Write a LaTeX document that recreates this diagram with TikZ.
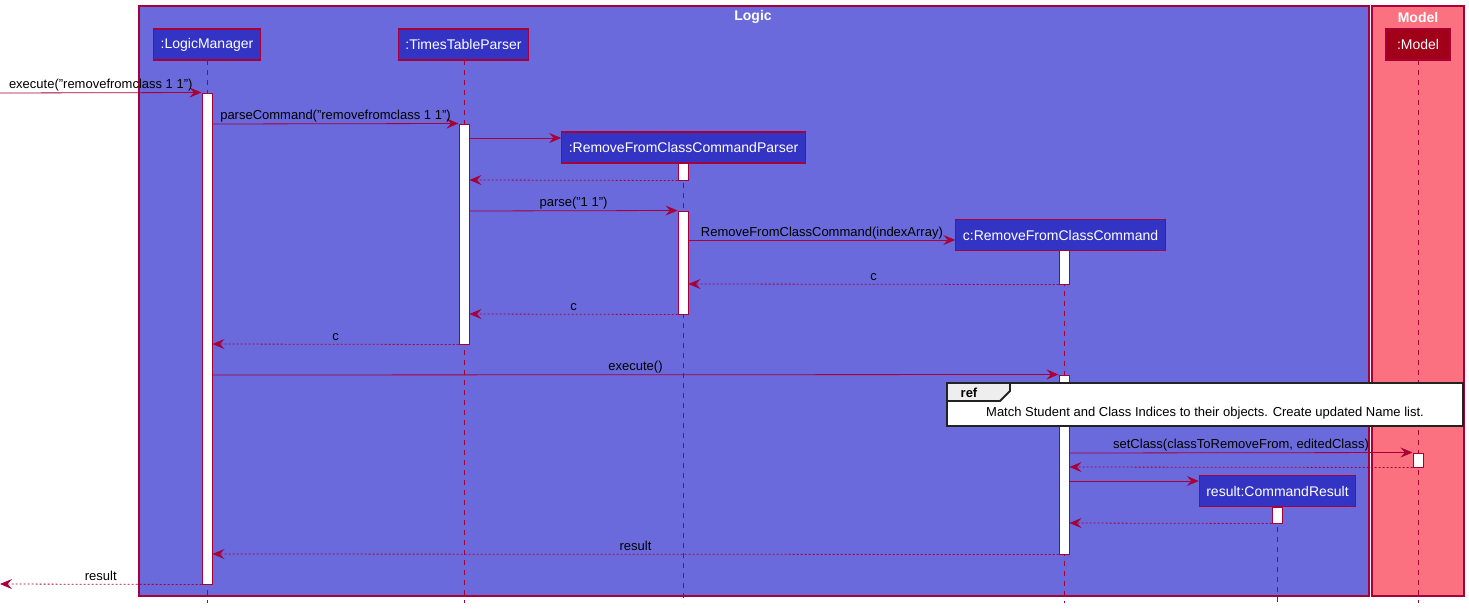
\documentclass[tikz,border=0pt]{standalone}
\usepackage{fontspec}
\setmainfont{Liberation Sans}
\usetikzlibrary{arrows.meta}
\definecolor{frameblue}{RGB}{106,106,220}
\definecolor{partblue}{RGB}{51,51,196}
\definecolor{modelpink}{RGB}{252,113,128}
\definecolor{modelred}{RGB}{160,0,24}
\definecolor{crimson}{RGB}{168,0,54}
\definecolor{reftab}{RGB}{238,238,238}
\definecolor{refline}{RGB}{34,34,34}
\begin{document}
\begin{tikzpicture}[x=1pt,y=-1pt,
  frame/.style={draw=crimson, line width=1.5pt},
  ftitle/.style={text=white, font=\bfseries\fontsize{14}{16}\selectfont, inner sep=0pt},
  part/.style={draw=crimson, line width=1.2pt, fill=partblue, text=white, font=\fontsize{14}{16}\selectfont, minimum height=31pt, inner xsep=7pt, inner ysep=0pt},
  life/.style={draw=crimson, line width=0.8pt, dash pattern=on 5pt off 5pt},
  act/.style={draw=crimson, fill=white, line width=1pt, minimum width=10pt, inner sep=0pt},
  msg/.style={draw=crimson, line width=0.8pt, -{Stealth[length=12pt,width=10pt,inset=4.5pt]}},
  ret/.style={msg, dash pattern=on 2pt off 2pt},
  lbl/.style={font=\fontsize{13}{15}\selectfont, anchor=base, yshift=4pt, inner sep=0pt, text=black},
]
\useasboundingbox (0,0) rectangle (1469,608);
\fill[white] (0,0) rectangle (1469,608);

% frames
\draw[frame, fill=frameblue] (139,6) rectangle (1369,596);
\draw[frame, fill=modelpink] (1372,6) rectangle (1464,596);
\node[ftitle] (tLogic) at (753,17) {Logic};
\node[ftitle] (tModel) at (1418,17) {Model};

% participants
\node[part] (pLM) at (207,44.5) {:LogicManager};
\node[part] (pTTP) at (463.5,44.5) {:TimesTableParser};
\node[part] (pRP) at (683.5,147.5) {:RemoveFromClassCommandParser};
\node[part] (pRC) at (1060.5,235) {c:RemoveFromClassCommand};
\node[part] (pCR) at (1277.5,491) {result:CommandResult};
\node[part, fill=modelred, minimum width=64pt] (pM) at (1418,44.5) {:Model};

% lifeline ends
\coordinate (eLM) at (207,603);
\coordinate (eTTP) at (464,603);
\coordinate (eRP) at (683,603);
\coordinate (eRC) at (1064,603);
\coordinate (eCR) at (1277,603);
\coordinate (eM) at (1418,603);

\draw[life] (207,60) -- (eLM);
\draw[life] (464,60) -- (eTTP);
\draw[life] (683,163) -- (eRP);
\draw[life] (1064,250.5) -- (eRC);
\draw[life] (1277,507) -- (eCR);
\draw[life] (1418,60) -- (eM);

% activation bars
\node[act, minimum height=491pt] (aLM) at (207,338.5) {};
\node[act, minimum height=220pt] (aTTP) at (464,234) {};
\node[act, minimum height=17pt] (aRP1) at (683,171.5) {};
\node[act, minimum height=103pt] (aRP2) at (683,262.5) {};
\node[act, minimum height=34pt] (aRC1) at (1064,267) {};
\node[act, minimum height=179pt] (aRC2) at (1064,464.5) {};
\node[act, minimum height=14pt] (aM) at (1418,460) {};
\node[act, minimum height=16pt] (aCR) at (1277,515) {};

% messages
\coordinate (ext1) at (0,93);
\coordinate (ext2) at (0,584);
\draw[msg] (ext1) -- node[lbl, midway] {execute("removefromclass 1 1")} (aLM.north west);
\draw[msg] (aLM.east |- 0,124) -- node[lbl, midway] {parseCommand("removefromclass 1 1")} (aTTP.north west);
\draw[msg] (aTTP.east |- 0,138) -- (pRP.west |- 0,138);
\draw[ret] (aRP1.south west) -- (aTTP.east |- 0,180);
\draw[msg] (aTTP.east |- 0,211) -- node[lbl, midway] {parse("1 1")} (aRP2.north west);
\draw[msg] (aRP2.east |- 0,240) -- node[lbl, midway] {RemoveFromClassCommand(indexArray)} (pRC.west |- 0,240);
\draw[ret] (aRC1.south west) -- node[lbl, midway] {c} (aRP2.east |- 0,284);
\draw[ret] (aRP2.south west) -- node[lbl, midway] {c} (aTTP.east |- 0,314);
\draw[ret] (aTTP.south west) -- node[lbl, midway] {c} (aLM.east |- 0,344);
\draw[msg] (aLM.east |- 0,375) -- node[lbl, midway] {execute()} (aRC2.north west);
\draw[msg] (aRC2.east |- 0,453) -- node[lbl, midway] {setClass(classToRemoveFrom, editedClass)} (aM.north west);
\draw[ret] (aM.south west) -- (aRC2.east |- 0,467);
\draw[msg] (aRC2.east |- 0,481) -- (pCR.west |- 0,481);
\draw[ret] (aCR.south west) -- (aRC2.east |- 0,523);
\draw[ret] (aRC2.south west) -- node[lbl, midway] {result} (aLM.east |- 0,554);
\draw[ret] (aLM.south west) -- node[lbl, midway] {result} (ext2);

% ref box
\draw[draw=refline, line width=1.8pt, fill=white] (947,383) rectangle (1463,426);
\draw[draw=refline, line width=1.8pt, fill=reftab] (947,383) -- (1010,383) -- (1010,391) -- (1000,401) -- (947,401) -- cycle;
\node[font=\bfseries\fontsize{13}{15}\selectfont, inner sep=0pt] (refTag) at (969,393) {ref};
\node[font=\fontsize{13}{15}\selectfont, inner sep=0pt] (refText) at (1205,413.5) {Match Student and Class Indices to their objects. Create updated Name list.};
\end{tikzpicture}
\end{document}
